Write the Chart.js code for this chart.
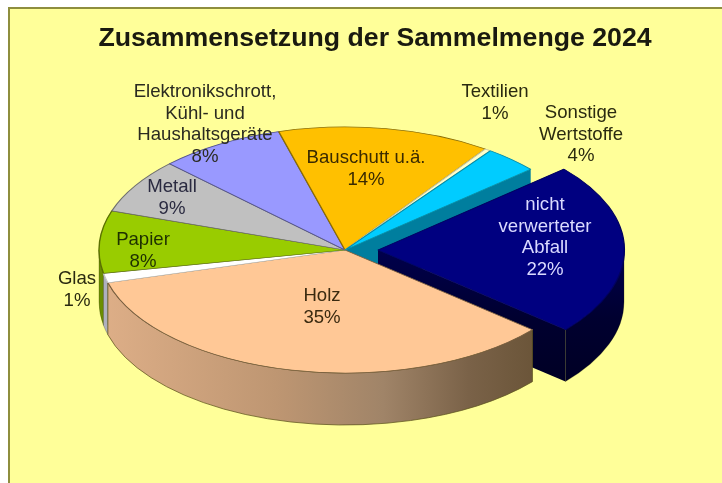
<!DOCTYPE html>
<html lang="de">
<head>
<meta charset="utf-8">
<title>Zusammensetzung der Sammelmenge 2024</title>
<style>
html,body{margin:0;padding:0;background:#fff;width:722px;height:483px;overflow:hidden}
#frame{position:absolute;left:8px;top:7px;width:714px;height:476px;box-sizing:border-box;background:#FFFF99;border-left:2px solid #8E8E3E;border-top:2px solid #8E8E3E}
canvas{position:absolute;left:0;top:0;filter:blur(0.45px)}
</style>
<script src="https://cdn.jsdelivr.net/npm/chart.js@4/dist/chart.umd.min.js"></script>
</head>
<body>
<div id="frame"></div>
<canvas id="c" width="722" height="483"></canvas>
<script>
const titleText = 'Zusammensetzung der Sammelmenge 2024';
const categories = ['nicht verwerteter Abfall','Holz','Glas','Papier','Metall','Elektronikschrott, Kühl- und Haushaltsgeräte','Bauschutt u.ä.','Textilien','Sonstige Wertstoffe'];
// percentages as printed on the chart
const printedPercent = ['22%','35%','1%','8%','9%','8%','14%','1%','4%'];
const sliceShares = [22.6,34.5,1.25,8.2,7.2,8.3,14.0,0.4,3.55];
const labelLines = [['nicht','verwerteter','Abfall'],['Holz'],['Glas'],['Papier'],['Metall'],['Elektronikschrott,','Kühl- und','Haushaltsgeräte'],['Bauschutt u.ä.'],['Textilien'],['Sonstige','Wertstoffe']];

const topColors = ['#000080','#FFC896','#FFFFFF','#99CC00','#C0C0C0','#9999FF','#FFC000','#FFFFCC','#00CCFF'];
const edgeColors = ['#000060','#7A5F40','#C8C8C8','#5A7000','#6E6E6E','#55558C','#8C6C00','#C8C8A0','#008CA8'];
const wallColors = ['#00004A','#C39A76','#AEB0BE','#6B8F00','#808080','#66669E','#A88000','#AAAA80','#007E9E'];
const explode = [132,0,0,0,0,0,0,0,0];           // Chart.js moves an arc by offset/4
const labelAnchors = [[545,205],[322,296],[77,279],[143,240],[172,187],[205,92],[366,158],[495,92],[581,113]];
const labelInk = ['#DADAFF','#3A2A10','#2A2A10','#1E3000','#2A2A40','#2A2A20','#3A2A00','#2A2A10','#2A2A10'];
const CX = 345, CY = 250, TILT = 0.5, DEPTH = 52, LINE = 21.5;

function wallFill(ctx, i){
  if (i === 1){
    const g = ctx.createLinearGradient(105,0,533,0);
    g.addColorStop(0,'#DDAE87'); g.addColorStop(.4,'#BE9672'); g.addColorStop(.65,'#A08468');
    g.addColorStop(.85,'#7A6248'); g.addColorStop(1,'#6B5539');
    return g;
  }
  if (i === 0){
    const g = ctx.createLinearGradient(0,250,0,385);
    g.addColorStop(0,'#00004C'); g.addColorStop(.5,'#000030'); g.addColorStop(1,'#000024');
    return g;
  }
  return wallColors[i];
}

const pie3d = {
  id:'pie3d',
  beforeDatasetsDraw(chart){
    const ctx = chart.ctx, meta = chart.getDatasetMeta(0);
    const order = meta.data.map((a,i)=>i).sort((p,q)=>{
      const m = a => (meta.data[a].startAngle+meta.data[a].endAngle)/2;
      return Math.sin(m(p))-Math.sin(m(q));
    });
    order.forEach(i=>{
      const a = meta.data[i], r = a.outerRadius, mid=(a.startAngle+a.endAngle)/2;
      const off = explode[i]/4;
      const x = CX+Math.cos(mid)*off, y = CY+Math.sin(mid)*off*TILT;
      const px = t => x+Math.cos(t)*r, py = t => y+Math.sin(t)*r*TILT;
      ctx.fillStyle = wallFill(ctx,i);
      ctx.strokeStyle = i===1 ? 'rgba(95,85,30,.75)' : 'rgba(40,40,0,.25)';
      ctx.lineWidth = 1;
      // cut faces that turn toward the viewer
      [[a.endAngle,Math.cos(a.endAngle)>0],[a.startAngle,Math.cos(a.startAngle)<0]].forEach(([t,show])=>{
        if(!show) return;
        ctx.beginPath();
        ctx.moveTo(x,y); ctx.lineTo(px(t),py(t));
        ctx.lineTo(px(t),py(t)+DEPTH); ctx.lineTo(x,y+DEPTH);
        ctx.closePath(); ctx.fill();
      });
      // outer rim, only the front half of the ellipse
      const from = Math.max(a.startAngle,0), to = Math.min(a.endAngle,Math.PI);
      if(to>from){
        ctx.beginPath();
        ctx.ellipse(x,y,r,r*TILT,0,from,to);
        ctx.ellipse(x,y+DEPTH,r,r*TILT,0,to,from,true);
        ctx.closePath(); ctx.fill(); ctx.stroke();
      }
    });
    const c = meta.data[0];
    ctx.save();
    ctx.translate(CX,CY); ctx.scale(1,TILT); ctx.translate(-c.x,-c.y);
  },
  afterDatasetsDraw(chart){
    chart.ctx.restore();
  },
  afterDraw(chart){
    const ctx = chart.ctx;
    ctx.save();
    ctx.font = '18.6px "Liberation Sans", Arial, sans-serif';
    ctx.textAlign = 'center'; ctx.textBaseline = 'middle';
    categories.forEach((c,i)=>{
      ctx.fillStyle = labelInk[i];
      const lines = labelLines[i].concat(printedPercent[i]);
      lines.forEach((t,k)=>ctx.fillText(t,labelAnchors[i][0],labelAnchors[i][1]+k*LINE));
    });
    ctx.restore();
  }
};

new Chart(document.getElementById('c'),{
  type:'pie',
  data:{labels:categories,datasets:[{
    data:sliceShares,
    backgroundColor:topColors,
    borderColor:edgeColors,
    borderWidth:1.4,
    offset:explode,
    clip:false
  }]},
  options:{
    responsive:false,animation:false,
    rotation:49,
    radius:246,
    events:[],
    layout:{padding:{left:28,top:0,right:0,bottom:0}},
    plugins:{
      legend:{display:false},
      tooltip:{enabled:false},
      title:{display:true,text:titleText,color:'#1A1A10',
        font:{family:'"Liberation Sans", Arial, sans-serif',size:26.7,weight:'bold',lineHeight:1.2},
        padding:{top:23,bottom:4}}
    }
  },
  plugins:[pie3d]
});
</script>
</body>
</html>
